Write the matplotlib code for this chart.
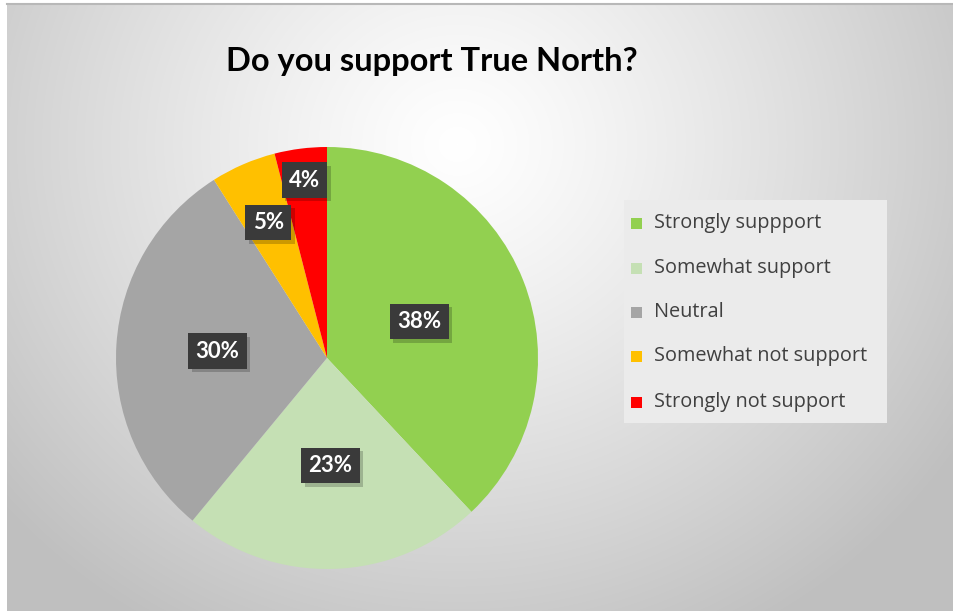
import numpy as np
import matplotlib
matplotlib.use("Agg")
import matplotlib.pyplot as plt
from matplotlib.patches import Rectangle
from matplotlib import patheffects as pe

plt.rcParams['font.family'] = ['Lato', 'DejaVu Sans']

title = "Do you support True North?"
categories = ["Strongly suppport", "Somewhat support", "Neutral",
              "Somewhat not support", "Strongly not support"]
values = [38, 23, 30, 5, 4]
colors = ["#92d050", "#c5e0b4", "#a5a5a5", "#ffc000", "#ff0000"]
label_dist = [0.47, 0.51, 0.52, 0.70, 0.85]

W, H = 954, 613
fig = plt.figure(figsize=(W / 100, H / 100), dpi=100)
fig.patch.set_facecolor("white")

# radial gradient backdrop
bg = fig.add_axes([7 / W, 2 / H, 947 / W, 607 / H])
bg.set_axis_off()
yy, xx = np.mgrid[0:607, 0:947]
cx, cy = 450, 140
d = np.sqrt(((xx - cx) / 600.0) ** 2 + ((yy - cy) / 560.0) ** 2)
shade = 1.0 - 0.25 * np.clip(d, 0, 1) ** 1.2
img = np.dstack([shade, shade, shade])
bg.imshow(img, aspect="auto", extent=(0, 1, 0, 1), origin="upper")
bg.set_xlim(0, 1)
bg.set_ylim(0, 1)
bg.plot([0, 1], [1, 1], color="#b8b8b8", lw=1.5, transform=bg.transAxes, clip_on=False)

# pie
cxp, cyp, r = 327, 358, 211
ax = fig.add_axes([(cxp - r) / W, (H - cyp - r) / H, 2 * r / W, 2 * r / H])
ax.set_axis_off()
wedges, _ = ax.pie(values, colors=colors, startangle=90, counterclock=False,
                   radius=1.0, wedgeprops=dict(linewidth=0))
ax.set_xlim(-1, 1)
ax.set_ylim(-1, 1)

for w, v, dist in zip(wedges, values, label_dist):
    ang = np.deg2rad((w.theta1 + w.theta2) / 2)
    x, y = dist * np.cos(ang), dist * np.sin(ang)
    t = ax.text(x, y, f"{v}%", ha="center", va="center", color="white",
                fontsize=16, fontweight="bold", zorder=5,
                bbox=dict(boxstyle="square,pad=0.33", facecolor="#3a3a3a",
                          edgecolor="none"))
    t.get_bbox_patch().set_path_effects(
        [pe.SimplePatchShadow(offset=(2.5, -2.5), shadow_rgbFace="#000000", alpha=0.2),
         pe.Normal()])

# title
fig.text(432 / W, 1 - 62 / H, title, ha="center", va="center",
         fontsize=23.5, fontweight="bold", color="#000000")

# legend
fig.patches.append(Rectangle((624 / W, 1 - 423 / H), (887 - 624) / W, (423 - 200) / H,
                             transform=fig.transFigure, facecolor="#ebebeb",
                             edgecolor="none", zorder=1))
ys = [223, 268, 312, 356, 402]
for lab, col, y in zip(categories, colors, ys):
    fig.patches.append(Rectangle((631 / W, 1 - (y + 5.5) / H), 11 / W, 11 / H,
                                 transform=fig.transFigure, facecolor=col,
                                 edgecolor="none", zorder=2))
    fig.text(654 / W, 1 - y / H, lab, ha="left", va="center", family="Open Sans",
             fontsize=14.3, color="#404040", zorder=3)

fig.savefig("out.png", dpi=100)
